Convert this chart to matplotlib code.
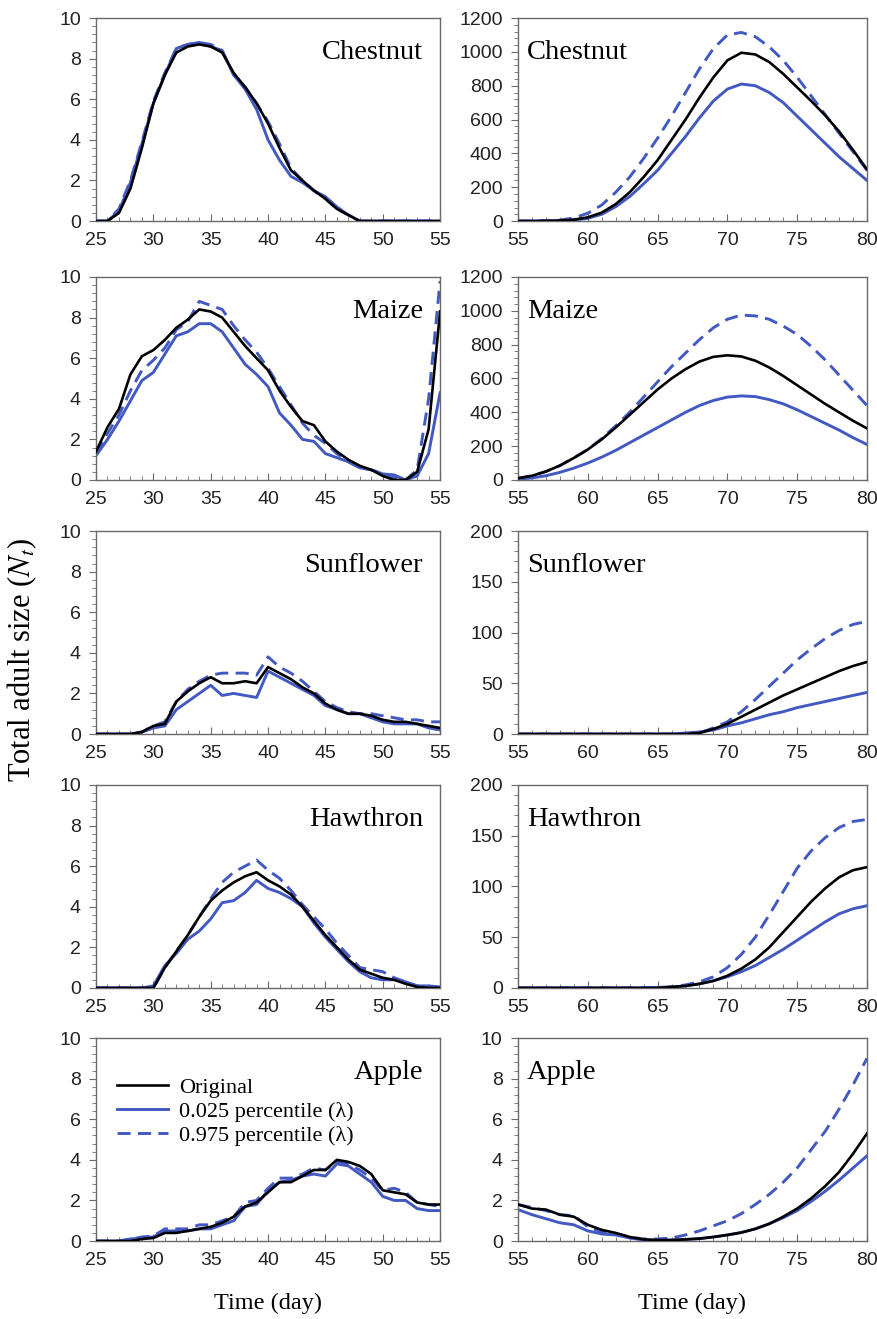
import matplotlib
matplotlib.use("Agg")
import matplotlib.pyplot as plt
from matplotlib.ticker import MultipleLocator

# days
days_early = list(range(25, 56))
days_late = list(range(55, 81))

crops = ["Chestnut", "Maize", "Sunflower", "Hawthron", "Apple"]

# ---- early season (25-55 d) ----
chestnut_orig = [0, 0, 0.4, 1.6, 3.6, 5.8, 7.2, 8.3, 8.6, 8.7, 8.6, 8.3, 7.3, 6.6, 5.8, 4.8,
                 3.6, 2.5, 2.0, 1.5, 1.1, 0.6, 0.3, 0, 0, 0, 0, 0, 0, 0, 0]
chestnut_low = [0, 0, 0.5, 1.9, 3.8, 5.8, 7.2, 8.5, 8.7, 8.8, 8.6, 8.4, 7.2, 6.5, 5.5, 4.0,
                3.0, 2.2, 1.9, 1.5, 1.2, 0.7, 0.3, 0, 0, 0, 0, 0, 0, 0, 0]
chestnut_high = [0, 0, 0.6, 2.0, 3.9, 5.9, 7.3, 8.5, 8.7, 8.8, 8.7, 8.4, 7.2, 6.6, 5.8, 4.9,
                 3.8, 2.6, 2.0, 1.5, 1.1, 0.6, 0.3, 0, 0, 0, 0, 0, 0, 0, 0]

maize_orig = [1.4, 2.6, 3.5, 5.2, 6.1, 6.4, 6.9, 7.5, 7.9, 8.4, 8.3, 8.0, 7.3, 6.6, 6.0, 5.4,
              4.4, 3.6, 2.9, 2.7, 1.9, 1.4, 1.0, 0.7, 0.5, 0.2, 0.0, 0.0, 0.4, 2.5, 8.3]
maize_low = [1.2, 2.0, 2.9, 3.9, 4.9, 5.3, 6.2, 7.1, 7.3, 7.7, 7.7, 7.3, 6.5, 5.7, 5.2, 4.6,
             3.3, 2.7, 2.0, 1.9, 1.3, 1.1, 0.9, 0.6, 0.5, 0.3, 0.25, 0.0, 0.2, 1.3, 4.3]
maize_high = [1.3, 2.3, 3.2, 4.4, 5.4, 5.9, 6.5, 7.4, 7.8, 8.8, 8.6, 8.4, 7.6, 6.9, 6.3, 5.5,
              4.6, 3.7, 2.8, 2.2, 1.8, 1.3, 0.9, 0.6, 0.5, 0.3, 0.1, 0.0, 0.5, 4.0, 9.8]

sunflower_orig = [0, 0, 0, 0, 0.1, 0.4, 0.5, 1.6, 2.1, 2.5, 2.8, 2.5, 2.5, 2.6, 2.5, 3.3,
                  3.0, 2.7, 2.3, 2.0, 1.5, 1.2, 1.0, 1.0, 0.9, 0.7, 0.6, 0.6, 0.5, 0.4, 0.3]
sunflower_low = [0, 0, 0, 0, 0.1, 0.3, 0.4, 1.2, 1.6, 2.0, 2.4, 1.9, 2.0, 1.9, 1.8, 3.1,
                 2.8, 2.5, 2.2, 1.9, 1.4, 1.2, 1.0, 1.0, 0.8, 0.6, 0.5, 0.5, 0.5, 0.3, 0.2]
sunflower_high = [0, 0, 0, 0, 0.1, 0.4, 0.6, 1.6, 2.2, 2.6, 2.9, 3.0, 3.0, 3.0, 2.9, 3.8,
                  3.3, 3.0, 2.6, 2.1, 1.6, 1.3, 1.1, 1.0, 1.0, 0.9, 0.8, 0.7, 0.7, 0.6, 0.6]

hawthron_orig = [0, 0, 0, 0, 0, 0, 1.0, 1.8, 2.6, 3.5, 4.3, 4.8, 5.2, 5.5, 5.7, 5.3,
                 5.0, 4.6, 4.0, 3.3, 2.6, 2.0, 1.4, 0.9, 0.7, 0.5, 0.4, 0.2, 0.05, 0, 0]
hawthron_low = [0, 0, 0, 0, 0, 0.1, 1.1, 1.7, 2.4, 2.8, 3.4, 4.2, 4.3, 4.7, 5.3, 4.9,
                4.7, 4.4, 4.0, 3.2, 2.5, 1.9, 1.3, 0.8, 0.5, 0.4, 0.4, 0.3, 0.1, 0.1, 0.05]
hawthron_high = [0, 0, 0, 0, 0, 0, 1.0, 1.8, 2.6, 3.5, 4.4, 5.2, 5.7, 6.0, 6.3, 5.8,
                 5.4, 4.8, 4.1, 3.5, 2.9, 2.2, 1.6, 1.0, 0.9, 0.8, 0.5, 0.3, 0.1, 0, 0]

apple_orig = [0, 0, 0, 0, 0.1, 0.15, 0.4, 0.4, 0.5, 0.6, 0.7, 0.9, 1.2, 1.7, 1.9, 2.4,
              2.9, 2.9, 3.2, 3.5, 3.5, 4.0, 3.9, 3.7, 3.3, 2.5, 2.4, 2.3, 1.9, 1.8, 1.8]
apple_low = [0, 0, 0, 0.1, 0.15, 0.2, 0.5, 0.5, 0.5, 0.6, 0.6, 0.8, 1.0, 1.7, 1.8, 2.5,
             2.9, 3.0, 3.2, 3.3, 3.2, 3.8, 3.7, 3.3, 2.9, 2.2, 2.0, 2.0, 1.6, 1.5, 1.5]
apple_high = [0, 0, 0, 0.1, 0.2, 0.25, 0.6, 0.6, 0.6, 0.8, 0.8, 1.0, 1.2, 1.9, 2.0, 2.6,
              3.1, 3.1, 3.3, 3.6, 3.5, 3.9, 3.8, 3.5, 3.1, 2.5, 2.6, 2.4, 1.9, 1.8, 1.7]

# ---- late season (55-80 d) ----
chestnut_orig_l = [0, 0, 1, 3, 8, 22, 50, 100, 170, 260, 360, 480, 600, 730, 850, 950,
                   995, 985, 940, 870, 790, 710, 625, 530, 420, 305]
chestnut_low_l = [0, 0, 1, 2, 6, 16, 40, 85, 145, 220, 300, 400, 500, 610, 710, 780,
                  810, 800, 760, 700, 620, 540, 460, 380, 310, 240]
chestnut_high_l = [0, 0, 2, 6, 18, 46, 95, 170, 260, 370, 490, 620, 760, 900, 1020, 1100,
                   1115, 1090, 1030, 950, 850, 740, 630, 520, 410, 300]

maize_orig_l = [10, 25, 50, 85, 130, 180, 240, 310, 385, 460, 535, 600, 655, 700, 728, 737,
                730, 705, 665, 615, 560, 505, 450, 400, 350, 305]
maize_low_l = [5, 12, 25, 45, 70, 100, 135, 175, 220, 265, 310, 355, 400, 440, 470, 490,
               497, 493, 475, 450, 415, 375, 335, 295, 250, 210]
maize_high_l = [10, 25, 50, 85, 130, 180, 245, 320, 400, 490, 580, 670, 750, 830, 900, 950,
                975, 970, 950, 910, 860, 790, 710, 620, 530, 440]

sunflower_orig_l = [0, 0, 0, 0, 0, 0, 0, 0, 0, 0, 0, 0, 0, 1, 5, 10,
                    17, 24, 31, 38, 44, 50, 56, 62, 67, 71]
sunflower_low_l = [0, 0, 0, 0, 0, 0, 0, 0, 0, 0, 0, 0, 1, 2, 4, 8,
                   11, 15, 19, 22, 26, 29, 32, 35, 38, 41]
sunflower_high_l = [0, 0, 0, 0, 0, 0, 0, 0, 0, 0, 0, 0, 0, 1, 6, 12,
                    22, 34, 47, 60, 73, 84, 94, 102, 108, 111]

hawthron_orig_l = [0, 0, 0, 0, 0, 0, 0, 0, 0, 0, 0, 1, 2, 4, 7, 12,
                   19, 28, 40, 55, 70, 85, 98, 109, 116, 119]
hawthron_low_l = [0, 0, 0, 0, 0, 0, 0, 0, 0, 0, 0.5, 1, 2, 4, 7, 11,
                  16, 22, 30, 38, 47, 56, 65, 73, 78, 81]
hawthron_high_l = [0, 0, 0, 0, 0, 0, 0, 0, 0, 0, 0, 1, 3, 6, 11, 20,
                   33, 50, 72, 95, 118, 135, 148, 158, 164, 166]

apple_orig_l = [1.8, 1.6, 1.55, 1.3, 1.2, 0.8, 0.55, 0.4, 0.2, 0.08, 0.05, 0.05, 0.08, 0.12,
                0.2, 0.3, 0.42, 0.6, 0.85, 1.2, 1.6, 2.1, 2.7, 3.4, 4.3, 5.3]
apple_low_l = [1.55, 1.3, 1.1, 0.9, 0.8, 0.5, 0.35, 0.3, 0.15, 0.05, 0.05, 0.05, 0.08, 0.12,
               0.2, 0.3, 0.42, 0.6, 0.85, 1.15, 1.5, 1.95, 2.45, 3.0, 3.6, 4.2]
apple_high_l = [1.8, 1.65, 1.5, 1.3, 1.25, 0.7, 0.45, 0.35, 0.2, 0.1, 0.1, 0.15, 0.3, 0.5,
                0.75, 1.0, 1.35, 1.8, 2.3, 2.9, 3.6, 4.5, 5.4, 6.5, 7.7, 9.0]

early = [
    (chestnut_orig, chestnut_low, chestnut_high),
    (maize_orig, maize_low, maize_high),
    (sunflower_orig, sunflower_low, sunflower_high),
    (hawthron_orig, hawthron_low, hawthron_high),
    (apple_orig, apple_low, apple_high),
]
late = [
    (chestnut_orig_l, chestnut_low_l, chestnut_high_l),
    (maize_orig_l, maize_low_l, maize_high_l),
    (sunflower_orig_l, sunflower_low_l, sunflower_high_l),
    (hawthron_orig_l, hawthron_low_l, hawthron_high_l),
    (apple_orig_l, apple_low_l, apple_high_l),
]
# y-axis top and major step for the right column
late_ylim = [(1200, 200), (1200, 200), (200, 50), (200, 50), (10, 2)]

BLUE = "#4259c2"
SPINE = "#6a6a6a"
SERIF = "Liberation Serif"
SANS = "Liberation Sans"
DASH = (0, (4.5, 2.5))

plt.rcParams["mathtext.fontset"] = "stix"

fig = plt.figure(figsize=(8.77, 13.19), dpi=100)

row_bottoms = [0.8324, 0.6361, 0.4435, 0.2510, 0.0591]
row_h = 0.1539
col_left = [0.1095, 0.5906]
col_w = [0.3923, 0.398]


def style_axes(ax, xlim, ylim, ystep):
    ax.set_xlim(*xlim)
    ax.set_ylim(0, ylim)
    ax.xaxis.set_major_locator(MultipleLocator(5))
    ax.xaxis.set_minor_locator(MultipleLocator(1))
    ax.yaxis.set_major_locator(MultipleLocator(ystep))
    ax.yaxis.set_minor_locator(MultipleLocator(ystep / 5))
    ax.tick_params(axis="x", which="both", direction="in", top=False, colors=SPINE,
                   labelcolor="#222222", labelsize=14, pad=8)
    ax.tick_params(axis="x", which="major", length=5)
    ax.tick_params(axis="x", which="minor", length=3)
    ax.tick_params(axis="y", which="both", direction="out", right=False, colors=SPINE,
                   labelcolor="#222222", labelsize=14, pad=6)
    ax.tick_params(axis="y", which="major", length=5)
    ax.tick_params(axis="y", which="minor", length=3)
    for lab in ax.get_xticklabels() + ax.get_yticklabels():
        lab.set_fontfamily(SANS)
    for sp in ax.spines.values():
        sp.set_color(SPINE)
        sp.set_linewidth(1.0)


for i, name in enumerate(crops):
    # left column: 25-55 d
    ax = fig.add_axes([col_left[0], row_bottoms[i], col_w[0], row_h])
    orig, low, high = early[i]
    ax.plot(days_early, orig, color="black", lw=1.9, label="Original", zorder=3)
    ax.plot(days_early, low, color=BLUE, lw=2.1, label="0.025 percentile (λ)", zorder=2)
    ax.plot(days_early, high, color=BLUE, lw=2.1, ls=DASH,
            label="0.975 percentile (λ)", zorder=2)
    style_axes(ax, (25, 55), 10, 2)
    ax.text(0.95, 0.83, name, transform=ax.transAxes, ha="right", va="center",
            fontsize=20.5, family=SERIF)
    if i == len(crops) - 1:
        ax.legend(loc="upper left", bbox_to_anchor=(0.035, 0.85), frameon=False,
                  prop={"family": SERIF, "size": 16}, handlelength=2.3,
                  handletextpad=0.5, labelspacing=0.15, borderaxespad=0)

    # right column: 55-80 d
    ax = fig.add_axes([col_left[1], row_bottoms[i], col_w[1], row_h])
    orig, low, high = late[i]
    ax.plot(days_late, orig, color="black", lw=1.9, zorder=3)
    ax.plot(days_late, low, color=BLUE, lw=2.1, zorder=2)
    ax.plot(days_late, high, color=BLUE, lw=2.1, ls=DASH, zorder=2)
    top, step = late_ylim[i]
    style_axes(ax, (55, 80), top, step)
    ax.text(0.025, 0.83, name, transform=ax.transAxes, ha="left", va="center",
            fontsize=20.5, family=SERIF)

fig.text(0.025, 0.5, r"Total adult size ($N_t$)", rotation=90, ha="center", va="center",
         fontsize=22, family=SERIF)
fig.text(col_left[0] + col_w[0] / 2, 0.012, "Time (day)", ha="center", va="center",
         fontsize=17.5, family=SERIF)
fig.text(col_left[1] + col_w[1] / 2, 0.012, "Time (day)", ha="center", va="center",
         fontsize=17.5, family=SERIF)

fig.savefig("out.png", dpi=100)
